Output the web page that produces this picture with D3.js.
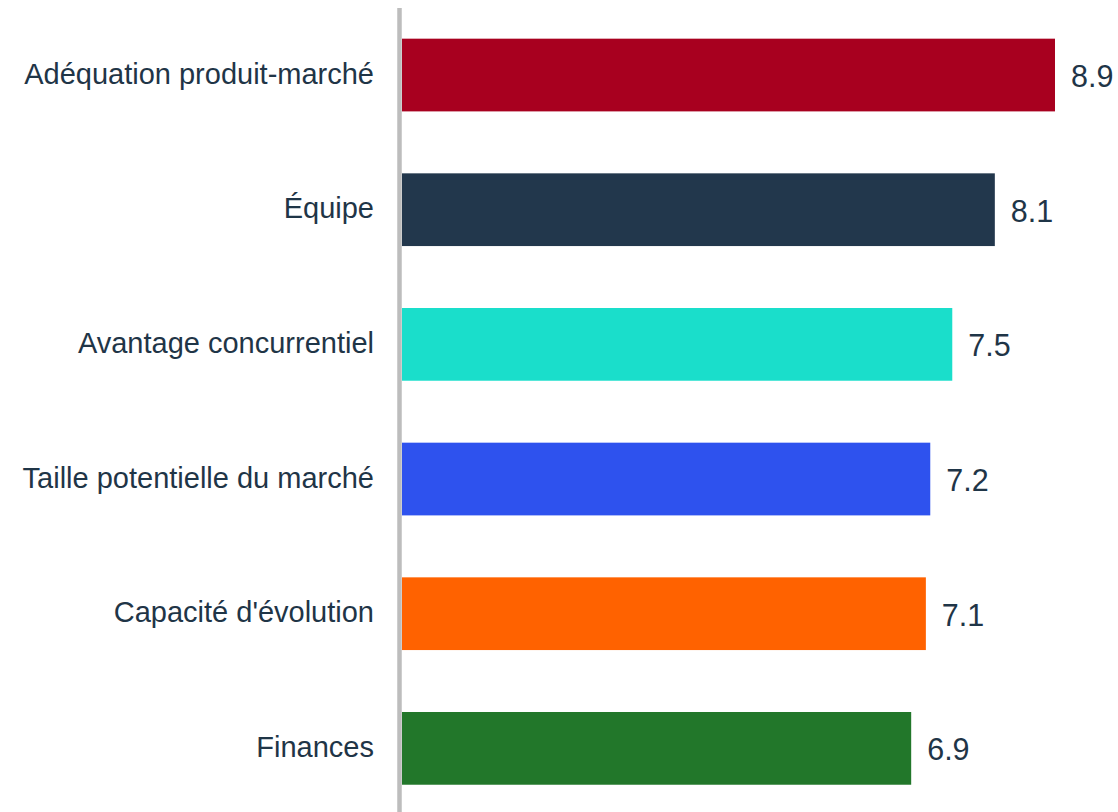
<!DOCTYPE html>
<html>
<head>
<meta charset="utf-8">
<script src="https://cdn.jsdelivr.net/npm/d3@7"></script>
<style>
  html, body { margin: 0; padding: 0; background: #ffffff; }
  svg { display: block; }
</style>
</head>
<body>
<svg id="chart" width="1118" height="812"></svg>
<script>
const categories = ["Adéquation produit-marché", "Équipe", "Avantage concurrentiel", "Taille potentielle du marché", "Capacité d'évolution", "Finances"];
const values = [8.9, 8.08, 7.5, 7.2, 7.14, 6.94];
const colors = ["#a8001f", "#22374c", "#1adecb", "#2e52ee", "#ff6200", "#22772a"];

const svg = d3.select("#chart");
const W = 1118, H = 812;

const x = d3.scaleLinear().domain([0, 10]).range([402, 1135.7]);
const y = d3.scaleBand().domain(categories).range([7.7, 815.7]).paddingInner(0.46).paddingOuter(0.23);

const fmt = d3.format(".1f");
const data = categories.map((c, i) => ({ c, v: values[i], col: colors[i] }));

svg.selectAll("rect.bar").data(data).enter().append("rect")
  .attr("class", "bar")
  .attr("x", x(0))
  .attr("y", d => y(d.c))
  .attr("width", d => x(d.v) - x(0))
  .attr("height", y.bandwidth())
  .attr("fill", d => d.col);

svg.selectAll("text.val").data(data).enter().append("text")
  .attr("class", "val")
  .attr("x", d => x(d.v) + 16)
  .attr("y", d => y(d.c) + y.bandwidth() / 2 + 12)
  .attr("font-family", "Liberation Sans, Arial, sans-serif")
  .attr("font-size", 30.5)
  .attr("fill", "#1f3547")
  .text(d => fmt(d.v));

svg.selectAll("text.cat").data(data).enter().append("text")
  .attr("class", "cat")
  .attr("x", 374)
  .attr("y", d => y(d.c) + y.bandwidth() / 2 + 8.6)
  .attr("text-anchor", "end")
  .attr("font-family", "Liberation Sans, Arial, sans-serif")
  .attr("font-size", 29)
  .attr("fill", "#1f3547")
  .text(d => d.c);

svg.append("line")
  .attr("x1", 399.5).attr("x2", 399.5)
  .attr("y1", 8).attr("y2", H)
  .attr("stroke", "#bdbdbd")
  .attr("stroke-width", 4.5);
</script>
</body>
</html>
